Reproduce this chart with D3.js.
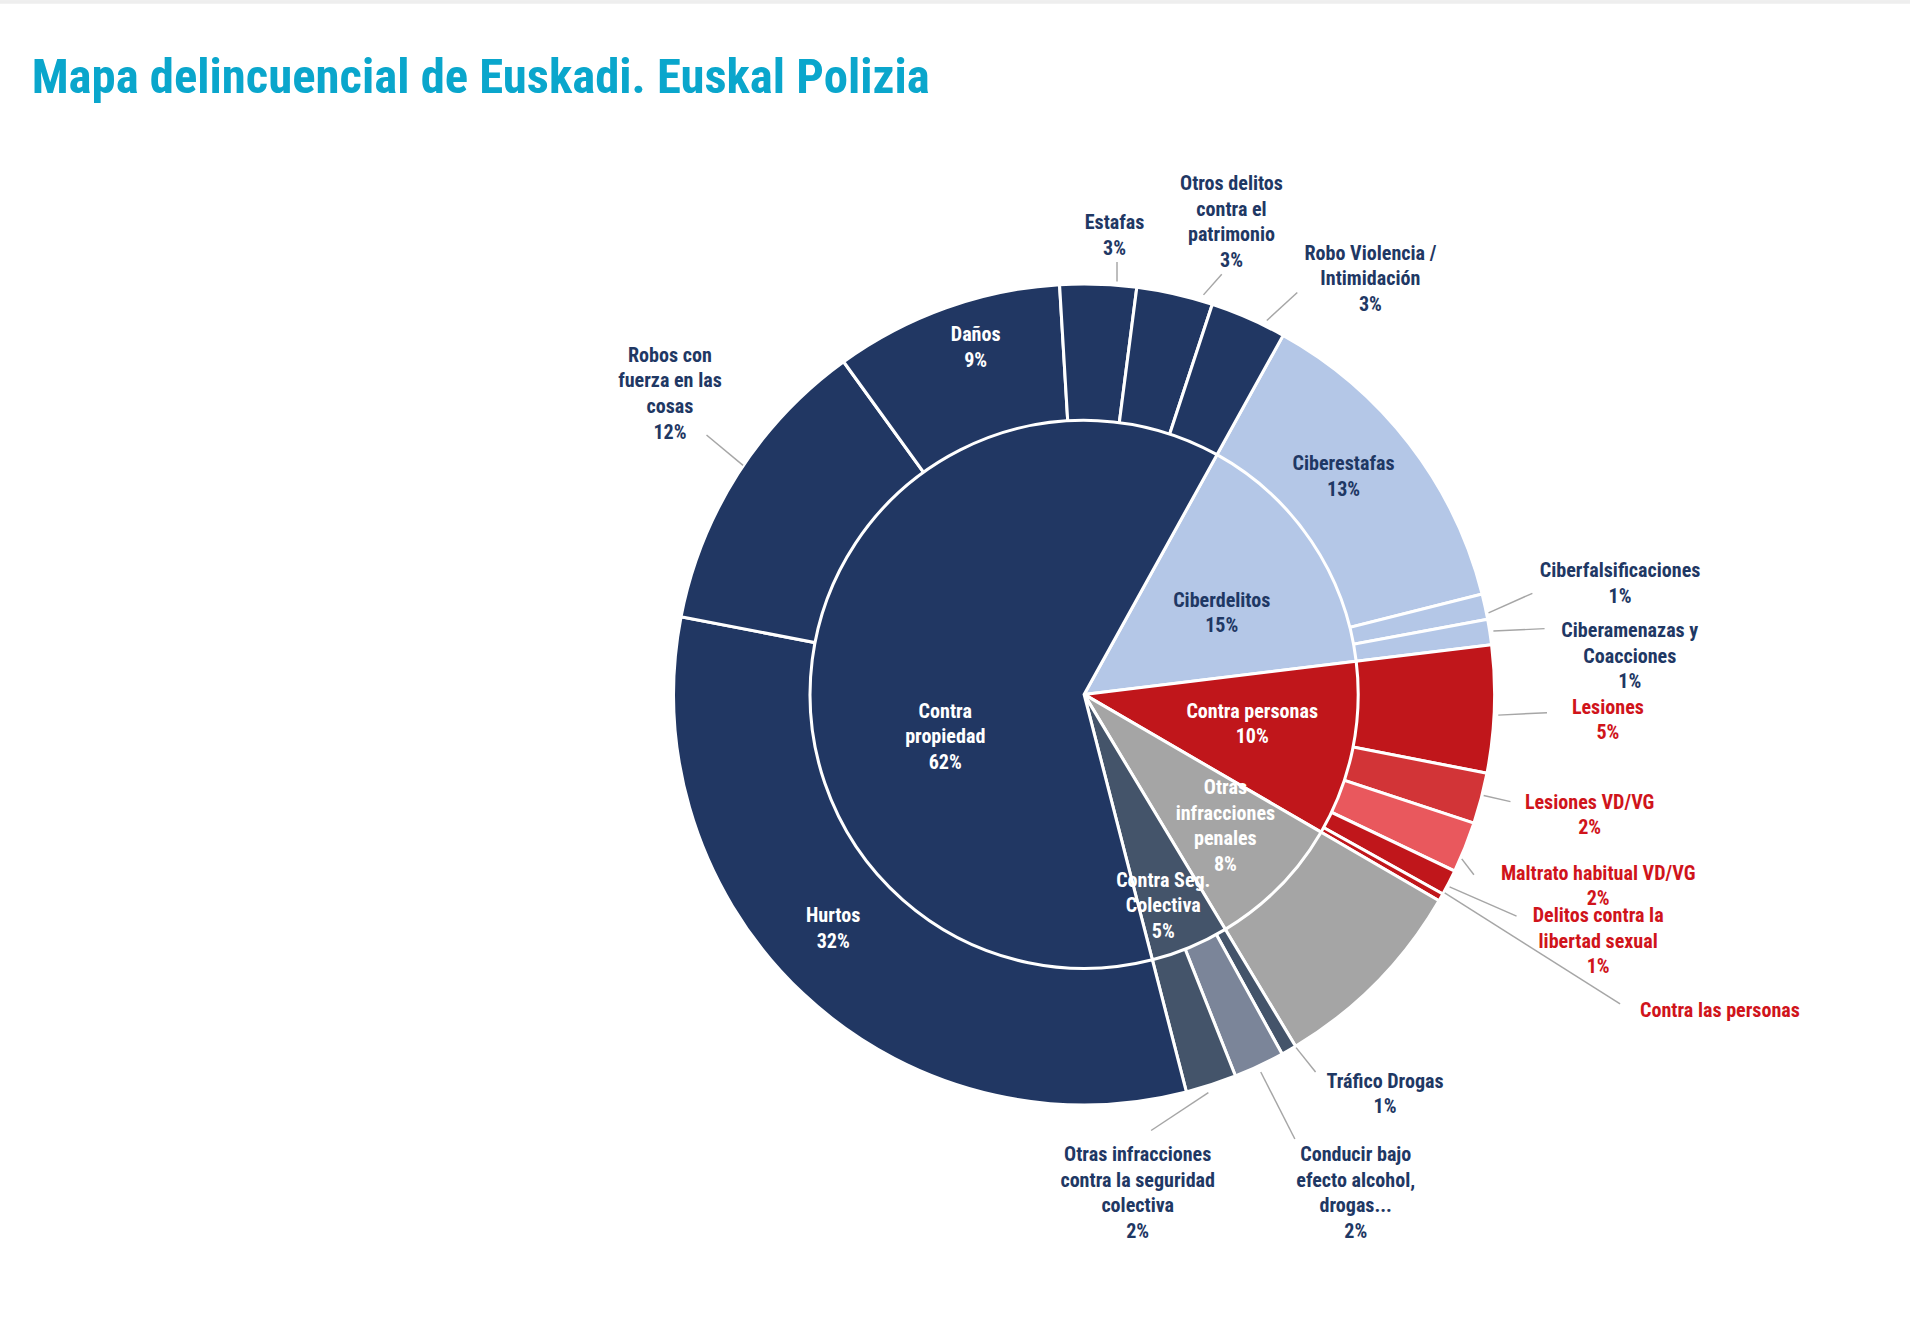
<!DOCTYPE html>
<html><head><meta charset="utf-8">
<script src="https://cdn.jsdelivr.net/npm/d3@7"></script>
<style>body{margin:0;background:#fff}text{font-family:"Liberation Sans Narrow","Roboto Condensed","Roboto",sans-serif;font-weight:bold}</style>
</head><body>
<svg id="c" width="1910" height="1334" viewBox="0 0 1568 1095"></svg>
<script>
// Inner ring (categories) and outer ring (subcategories), values in %
const groups = ["Ciberdelitos","Contra personas","Otras infracciones penales","Contra Seg. Colectiva","Contra propiedad"];
const groupLabels = [["Ciberdelitos","15%"],["Contra personas","10%"],["Otras","infracciones","penales","8%"],["Contra Seg.","Colectiva","5%"],["Contra","propiedad","62%"]];
const groupColors = ["#b4c7e7","#c0161b","#a5a5a5","#44546a","#213763"];
const subNames = ["Ciberestafas","Ciberfalsificaciones","Ciberamenazas y Coacciones","Lesiones","Lesiones VD/VG","Maltrato habitual VD/VG","Delitos contra la libertad sexual","Contra las personas","Otras infracciones penales","Tráfico Drogas","Conducir bajo efecto alcohol, drogas...","Otras infracciones contra la seguridad colectiva","Hurtos","Robos con fuerza en las cosas","Daños","Estafas","Otros delitos contra el patrimonio","Robo Violencia / Intimidación"];
const subGroup = [0,0,0,1,1,1,1,1,2,3,3,3,4,4,4,4,4,4];
const subValues = [13,1,1,5,2,2,1,0.3,8,0.6,2,2,32,12,9,3,3,3];
const subColors = ["#b4c7e7","#b4c7e7","#b4c7e7","#c0161b","#d23437","#e9585d","#c0161b","#c0161b","#a5a5a5","#44546a","#7b8599","#44546a","#213763","#213763","#213763","#213763","#213763","#213763"];
// label layout (annotation positions, in viewBox units)
const inLabels = [[1003,492,"#1f3864"],[1028,583,"#fff"],[1006,646,"#fff"],[955,722,"#fff"],[776,583,"#fff"]];
const subLabelText = {0:["Ciberestafas","13%"],12:["Hurtos","32%"],14:["Daños","9%"],
 13:["Robos con","fuerza en las","cosas","12%"],15:["Estafas","3%"],16:["Otros delitos","contra el","patrimonio","3%"],17:["Robo Violencia /","Intimidación","3%"],
 1:["Ciberfalsificaciones","1%"],2:["Ciberamenazas y","Coacciones","1%"],3:["Lesiones","5%"],4:["Lesiones VD/VG","2%"],5:["Maltrato habitual VD/VG","2%"],6:["Delitos contra la","libertad sexual","1%"],7:["Contra las personas"],
 9:["Tráfico Drogas","1%"],10:["Conducir bajo","efecto alcohol,","drogas...","2%"],11:["Otras infracciones","contra la seguridad","colectiva","2%"]};
const subLabelPos = {0:[1103,380,"#1f3864"],12:[684,751,"#fff"],14:[801,274,"#fff"],
 13:[550,291,"#1f3864",[580,357],[610,382]],15:[915,182,"#1f3864",[917,215],[917,231]],16:[1011,150,"#1f3864",[1003,225],[988,242]],17:[1125,207,"#1f3864",[1065,240],[1040,263]],
 1:[1330,468,"#1f3864",[1258,487],[1222,503]],2:[1338,517,"#1f3864",[1268,516],[1226,518]],3:[1320,580,"#d0141b",[1270,585],[1230,587]],4:[1305,658,"#d0141b",[1240,658],[1218,653]],5:[1312,716,"#d0141b",[1210,718],[1200,705]],6:[1312,751,"#d0141b",[1245,752],[1190,728]],7:[1412,829,"#d0141b",[1330,824],[1186,733]],
 9:[1137,887,"#1f3864",[1080,880],[1064,860]],10:[1113,947,"#1f3864",[1063,935],[1035,880]],11:[934,947,"#1f3864",[945,928],[992,897]]};

const svg = d3.select("#c");
svg.append("rect").attr("width",1568).attr("height",3).attr("fill","#eee");
svg.append("text").attr("x",26).attr("y",76).attr("font-size",40).attr("fill","#0aa6cc").text("Mapa delincuencial de Euskadi. Euskal Polizia");

const cx=890, cy=570, rIn=225, rOut=337;
const start = 29*Math.PI/180;
const groupValues = groups.map((g,i)=>d3.sum(subValues.filter((v,j)=>subGroup[j]===i)));
const pie = d3.pie().sort(null).value(d=>d).startAngle(start).endAngle(start+2*Math.PI);
const g = svg.append("g").attr("transform",`translate(${cx},${cy})`);
const outerArcs = pie(subValues);
g.selectAll(".o").data(outerArcs).join("path")
 .attr("d",d3.arc().innerRadius(0).outerRadius(rOut)).attr("fill",(d,i)=>subColors[i]).attr("stroke","#fff").attr("stroke-width",2.5);
g.selectAll(".i").data(pie(groupValues)).join("path")
 .attr("d",d3.arc().innerRadius(0).outerRadius(rIn)).attr("fill",(d,i)=>groupColors[i]).attr("stroke","#fff").attr("stroke-width",2.5);

const lh=21;
function lbl(x,y,lines,color){
  const t=svg.append("text").attr("text-anchor","middle").attr("font-size",16.5).attr("fill",color);
  lines.forEach((s,k)=>t.append("tspan").attr("x",x).attr("y",y+k*lh+6).text(s));
}
groupLabels.forEach((L,i)=>lbl(inLabels[i][0],inLabels[i][1],L,inLabels[i][2]));
Object.keys(subLabelText).forEach(k=>{
  const p=subLabelPos[k];
  if(p[3]) svg.append("line").attr("x1",p[3][0]).attr("y1",p[3][1]).attr("x2",p[4][0]).attr("y2",p[4][1]).attr("stroke","#a6a6a6").attr("stroke-width",1.2);
  lbl(p[0],p[1],subLabelText[k],p[2]);
});
</script></body></html>
